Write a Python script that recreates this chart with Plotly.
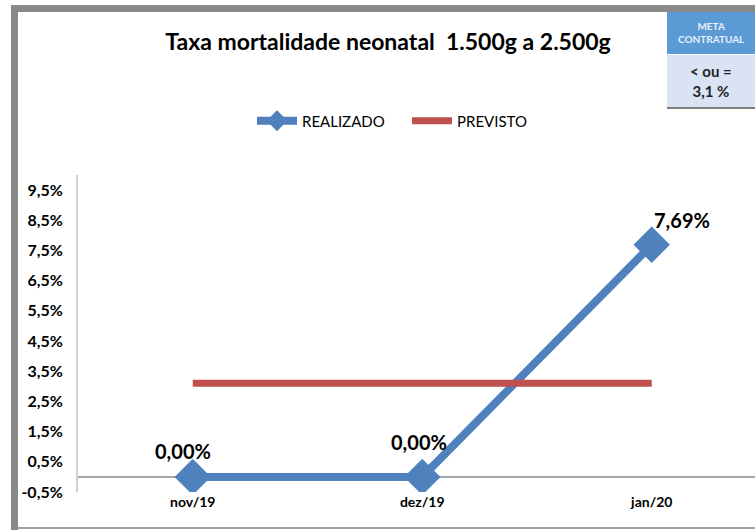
import plotly.graph_objects as go

categories = ["nov/19", "dez/19", "jan/20"]
realizado = [0.0, 0.0, 7.69]
previsto = [3.1, 3.1, 3.1]
tick_vals = [-0.5, 0.5, 1.5, 2.5, 3.5, 4.5, 5.5, 6.5, 7.5, 8.5, 9.5]
tick_text = ["-0,5%", "0,5%", "1,5%", "2,5%", "3,5%", "4,5%", "5,5%", "6,5%", "7,5%", "8,5%", "9,5%"]
title_text = "Taxa mortalidade neonatal  1.500g a 2.500g"

W, H = 755, 530
ML, MR, MT, MB = 78, 0, 175, 38
PW, PH = W - ML - MR, H - MT - MB

def px(x):
    return (x - ML) / PW

def py(y):
    return (H - MB - y) / PH

FONT = "Lato, 'Open Sans', sans-serif"
BLUE = "#4F81BD"
RED = "#C0504D"

fig = go.Figure()
fig.add_trace(go.Scatter(
    x=categories, y=realizado, name="REALIZADO", mode="lines+markers",
    line=dict(color=BLUE, width=8),
    marker=dict(symbol="diamond", size=28, color=BLUE),
))
fig.add_trace(go.Scatter(
    x=categories, y=previsto, name="PREVISTO", mode="lines",
    line=dict(color=RED, width=7),
))

def fmt(v):
    return f"{v:.2f}%".replace(".", ",")

offsets = [(-10, 26), (-3, 35), (30, 25)]
for c, v, (dx, dy) in zip(categories, realizado, offsets):
    fig.add_annotation(x=c, y=v, xref="x", yref="y", text=f"<b>{fmt(v)}</b>",
                       showarrow=False, xshift=dx, yshift=dy,
                       font=dict(family=FONT, size=20, color="#000"))

shapes = [
    # frame
    dict(type="rect", xref="paper", yref="paper", x0=px(11), x1=px(18), y0=py(530), y1=py(5),
         fillcolor="#898989", line=dict(width=0), layer="above"),
    dict(type="rect", xref="paper", yref="paper", x0=px(11), x1=px(755), y0=py(12), y1=py(5),
         fillcolor="#898989", line=dict(width=0), layer="above"),
    dict(type="line", xref="paper", yref="paper", x0=px(18), x1=px(755), y0=py(528), y1=py(528),
         line=dict(color="#a0a0a0", width=2), layer="above"),
    # meta box
    dict(type="rect", xref="paper", yref="paper", x0=px(667), x1=px(755), y0=py(54), y1=py(12),
         fillcolor="#5B9BD5", line=dict(width=0), layer="above"),
    dict(type="rect", xref="paper", yref="paper", x0=px(667), x1=px(755), y0=py(107), y1=py(55),
         fillcolor="#DAE3F3", line=dict(width=0), layer="above"),
    dict(type="line", xref="paper", yref="paper", x0=px(667), x1=px(755), y0=py(108), y1=py(108),
         line=dict(color="#7f7f7f", width=2), layer="above"),
]

annotations_extra = [
    dict(x=px(711), y=py(33), xref="paper", yref="paper", showarrow=False,
         xanchor="center", yanchor="middle", align="center",
         text="<b>META<br>CONTRATUAL</b>", font=dict(family=FONT, size=10, color="#e8eef8")),
    dict(x=px(711), y=py(81), xref="paper", yref="paper", showarrow=False,
         xanchor="center", yanchor="middle", align="center",
         text="<b>&lt; ou =<br>3,1 %</b>", font=dict(family=FONT, size=15, color="#222")),
]
for a in annotations_extra:
    fig.add_annotation(**a)

fig.update_layout(
    width=W, height=H,
    margin=dict(l=ML, r=MR, t=MT, b=MB, autoexpand=False),
    paper_bgcolor="white", plot_bgcolor="white",
    title=dict(text=f"<b>{title_text}</b>", x=px(388), xref="paper", xanchor="center",
               y=1 - 42 / H, yanchor="middle",
               font=dict(family=FONT, size=23, color="#000")),
    showlegend=True,
    legend=dict(orientation="h", x=px(252), y=py(121), xref="paper", yref="paper",
                xanchor="left", yanchor="middle",
                font=dict(family=FONT, size=15, color="#000"),
                itemwidth=40, tracegroupgap=0, entrywidth=100),
    shapes=shapes,
    xaxis=dict(range=[-0.5, 2.45], showgrid=False, showline=False, zeroline=False,
               automargin=False,
               ticks="", tickfont=dict(family=FONT, size=14, color="#000"),
               tickprefix="<b>", ticksuffix="</b>"),
    yaxis=dict(range=[-0.5, 10.0], tickvals=tick_vals, ticktext=[f"<b>{t}</b>" for t in tick_text],
               automargin=False,
               showgrid=False, showline=True, linecolor="#d0d0d0", linewidth=2,
               zeroline=True, zerolinecolor="#a6a6a6", zerolinewidth=1.5,
               ticks="", ticklabelstandoff=10,
               tickfont=dict(family=FONT, size=16, color="#000")),
)

fig.write_html("out.html", config={"displayModeBar": False},
               post_script="document.body.style.margin='0';document.body.style.overflow='hidden';")
